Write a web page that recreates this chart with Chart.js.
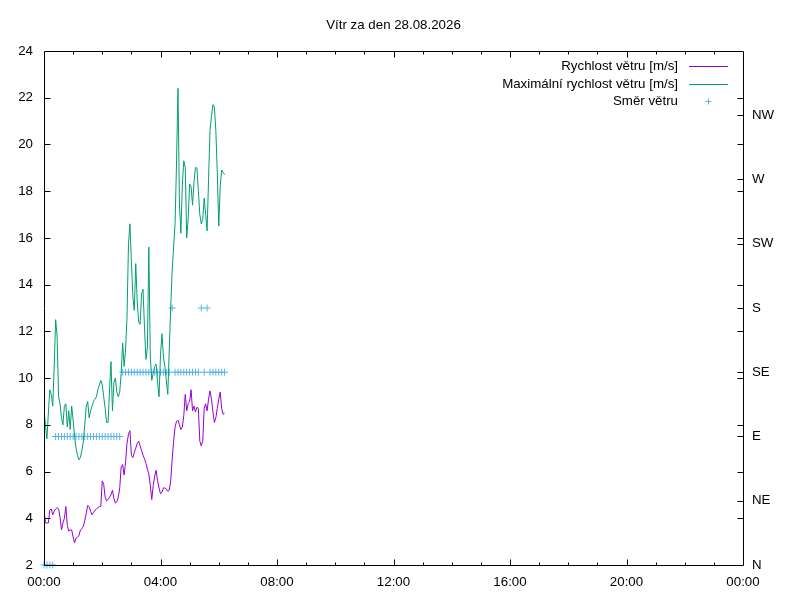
<!DOCTYPE html>
<html>
<head>
<meta charset="utf-8">
<script src="https://cdn.jsdelivr.net/npm/chart.js@4.4.1/dist/chart.umd.min.js"></script>
<style>
  body { margin: 0; background: #fff; }
  canvas { display: block; }
</style>
</head>
<body>
<canvas id="windChart" width="800" height="600"></canvas>
<script>
// vzorky po 3 minutach od 00:00
const sampleStep = 3;      // minut
const dirStep = 6;         // smer se kresli kazdy druhy vzorek

const windAvg = [
  4.3, 3.8, 3.8, 3.8, 4.35, 4.4, 4.15, 4.3, 4.4, 4.45,
  4.4, 4.05, 3.5, 3.8, 4.0, 4.5, 3.7, 3.45, 3.5, 3.5,
  3.2, 2.95, 3.15, 3.2, 3.25, 3.5, 3.55, 3.65, 3.9, 4.2,
  4.55, 4.5, 4.3, 4.15, 4.25, 4.35, 4.4, 4.45, 4.5, 4.5,
  5.6, 5.45, 4.9, 4.75, 4.8, 4.9, 5.0, 5.2, 4.85, 4.65,
  4.7, 4.9, 5.3, 6.2, 6.3, 5.85, 6.4, 7.2, 7.6, 7.75,
  6.7, 6.6, 6.8, 7.0, 7.2, 7.3, 7.1, 6.9, 6.7, 6.55,
  6.35, 6.1, 5.9, 5.4, 4.8, 5.4, 5.8, 6.05, 5.6, 5.3,
  5.05, 5.1, 5.3, 5.3, 5.25, 5.15, 5.2, 5.6, 6.5, 7.3,
  7.9, 8.15, 8.2, 8.0, 7.8, 7.9, 8.4, 9.3, 8.6, 8.9,
  9.0, 9.5, 8.6, 8.8, 8.55, 8.75, 8.7, 7.3, 7.1, 7.3,
  8.7, 8.9, 8.6, 9.1, 9.45, 9.1, 8.55, 8.1, 8.3, 8.7,
  9.1, 9.4, 8.7, 8.45, 8.5
];

const windMax = [
  8.6, 8.0, 7.4, 8.5, 9.5, 9.3, 8.8, 10.5, 12.5, 11.8,
  9.2, 8.9, 8.3, 8.0, 8.8, 8.9, 7.9, 8.6, 7.8, 8.8,
  8.2, 7.5, 7.0, 6.7, 6.5, 6.6, 6.9, 7.3, 8.0, 8.8,
  9.0, 8.3, 8.6, 8.8, 9.0, 9.1, 9.2, 9.5, 9.7, 9.9,
  9.7, 9.2, 8.7, 8.1, 8.1, 9.5, 10.7, 8.6, 9.8, 10.0,
  9.4, 9.2, 9.4, 10.2, 11.5, 10.5, 11.2, 12.6, 15.7, 16.6,
  15.0, 13.5, 12.9, 14.9, 13.3, 12.4, 12.3, 13.6, 13.8, 12.2,
  10.8, 11.3, 15.6, 10.9, 9.9, 10.2, 10.5, 10.6, 9.8, 9.2,
  11.0, 11.9, 10.9, 10.5, 9.9, 9.3, 11.2, 13.0, 14.6, 15.6,
  16.6, 19.2, 22.4, 17.5, 16.2, 18.3, 19.3, 19.0, 16.0, 16.8,
  18.3, 18.2, 17.4, 18.4, 19.0, 19.0, 18.0, 17.0, 16.6, 16.8,
  17.7, 17.0, 16.3, 18.5, 20.6, 21.2, 21.7, 21.6, 20.6, 18.8,
  16.5, 18.2, 18.9, 18.8, 18.7
];

// smer ve stupnich
const windDir = [
  0, 0, 0, 0,
  90, 90, 90, 90, 90, 90, 90, 90, 90, 90, 90, 90,
  90, 90, 90, 90, 90, 90, 90, 90, 90, 90, 90,
  135, 135, 135, 135, 135, 135, 135, 135, 135, 135, 135, 135, 135, 135, 135, 135,
  135, 180,
  135, 135, 135, 135, 135, 135, 135, 135, 135,
  180, 135, 180,
  135, 135, 135, 135, 135, 135
];

const dirNames = ["N", "NE", "E", "SE", "S", "SW", "W", "NW"];
const title = "Vítr za den 28.08.2026";

const avgPoints = windAvg.map((v, i) => ({ x: i * sampleStep / 60, y: v }));
const maxPoints = windMax.map((v, i) => ({ x: i * sampleStep / 60, y: v }));
const dirPoints = windDir.map((v, i) => ({ x: i * dirStep / 60, y: v }));

const FONT = "'Liberation Sans', Arial, sans-serif";
const FSIZE = 13.3;
Chart.defaults.font.family = FONT;
Chart.defaults.font.size = FSIZE;
Chart.defaults.color = "#000";

// ramecek, tiky dovnitr a legenda jako v gnuplotu
const gnuplotFrame = {
  id: "gnuplotFrame",
  afterDraw(chart) {
    const { ctx, chartArea: a, scales } = chart;
    const L = Math.round(a.left) + 0.5, R = Math.round(a.right) + 0.5;
    const T = Math.round(a.top) + 0.5, B = Math.round(a.bottom) + 0.5;
    ctx.save();
    ctx.strokeStyle = "#000";
    ctx.lineWidth = 1;
    ctx.beginPath();
    ctx.rect(L, T, R - L, B - T);
    // hodinove tiky nahore a dole
    for (let h = 1; h < 24; h++) {
      const x = Math.round(scales.x.getPixelForValue(h)) + 0.5;
      const len = h % 4 === 0 ? 6 : 3;
      ctx.moveTo(x, B); ctx.lineTo(x, B - len);
      ctx.moveTo(x, T); ctx.lineTo(x, T + len);
    }
    // rychlost vlevo + zrcadleni vpravo
    for (let v = 4; v < 24; v += 2) {
      const y = Math.round(scales.y.getPixelForValue(v)) + 0.5;
      ctx.moveTo(L, y); ctx.lineTo(L + 6, y);
      ctx.moveTo(R, y); ctx.lineTo(R - 6, y);
    }
    // smer vpravo
    for (let d = 45; d < 360; d += 45) {
      const y = Math.round(scales.y2.getPixelForValue(d)) + 0.5;
      ctx.moveTo(R, y); ctx.lineTo(R - 6, y);
    }
    ctx.stroke();

    // legenda
    ctx.font = FSIZE + "px " + FONT;
    ctx.textAlign = "right";
    ctx.textBaseline = "middle";
    chart.data.datasets.forEach((ds, k) => {
      const y = Math.round(a.top + 15.5 + k * 17.2) + 0.5;
      ctx.fillStyle = "#000";
      ctx.fillText(ds.label, a.right - 65, y);
      ctx.strokeStyle = ds.borderColor;
      ctx.beginPath();
      if (ds.showLine === false) {
        const cx = Math.round(a.right - 35) + 0.5;
        ctx.moveTo(cx - 3, y); ctx.lineTo(cx + 3, y);
        ctx.moveTo(cx, y - 3); ctx.lineTo(cx, y + 3);
      } else {
        ctx.moveTo(a.right - 54, y); ctx.lineTo(a.right - 15, y);
      }
      ctx.stroke();
    });
    ctx.restore();
  }
};

new Chart(document.getElementById("windChart"), {
  type: "line",
  data: {
    datasets: [
      {
        label: "Rychlost větru [m/s]",
        data: avgPoints,
        borderColor: "#9400d3",
        borderWidth: 1,
        pointRadius: 0,
        tension: 0,
        yAxisID: "y",
      },
      {
        label: "Maximální rychlost větru [m/s]",
        data: maxPoints,
        borderColor: "#009e73",
        borderWidth: 1,
        pointRadius: 0,
        tension: 0,
        yAxisID: "y",
      },
      {
        label: "Směr větru",
        data: dirPoints,
        showLine: false,
        borderColor: "#56b4e9",
        backgroundColor: "#56b4e9",
        pointStyle: "cross",
        pointRadius: 3.5,
        pointBorderWidth: 1,
        yAxisID: "y2",
        clip: false,
      },
    ],
  },
  options: {
    responsive: false,
    animation: false,
    devicePixelRatio: 1,
    layout: { padding: 0 },
    plugins: {
      legend: { display: false },
      tooltip: { enabled: false },
      title: {
        display: true,
        fullSize: false,
        text: title,
        font: { size: FSIZE, weight: "normal" },
        color: "#000",
        padding: { top: 17, bottom: 18 },
      },
    },
    scales: {
      x: {
        type: "linear",
        min: 0,
        max: 24,
        grid: { display: false, drawTicks: false },
        border: { display: false },
        ticks: {
          stepSize: 4,
          autoSkip: false,
          maxRotation: 0,
          padding: 9,
          callback: (v) => String(v % 24).padStart(2, "0") + ":00",
        },
        afterFit: (s) => { s.height = 35; },
      },
      y: {
        position: "left",
        min: 2,
        max: 24,
        grid: { display: false, drawTicks: false },
        border: { display: false },
        ticks: { stepSize: 2, padding: 11 },
        afterFit: (s) => { s.width = 44; },
      },
      y2: {
        position: "right",
        min: 0,
        max: 360,
        grid: { display: false, drawTicks: false },
        border: { display: false },
        ticks: {
          stepSize: 45,
          padding: 9,
          callback: (v) => dirNames[v / 45] || "",
        },
        afterFit: (s) => { s.width = 57; },
      },
    },
  },
  plugins: [gnuplotFrame],
});
</script>
</body>
</html>
